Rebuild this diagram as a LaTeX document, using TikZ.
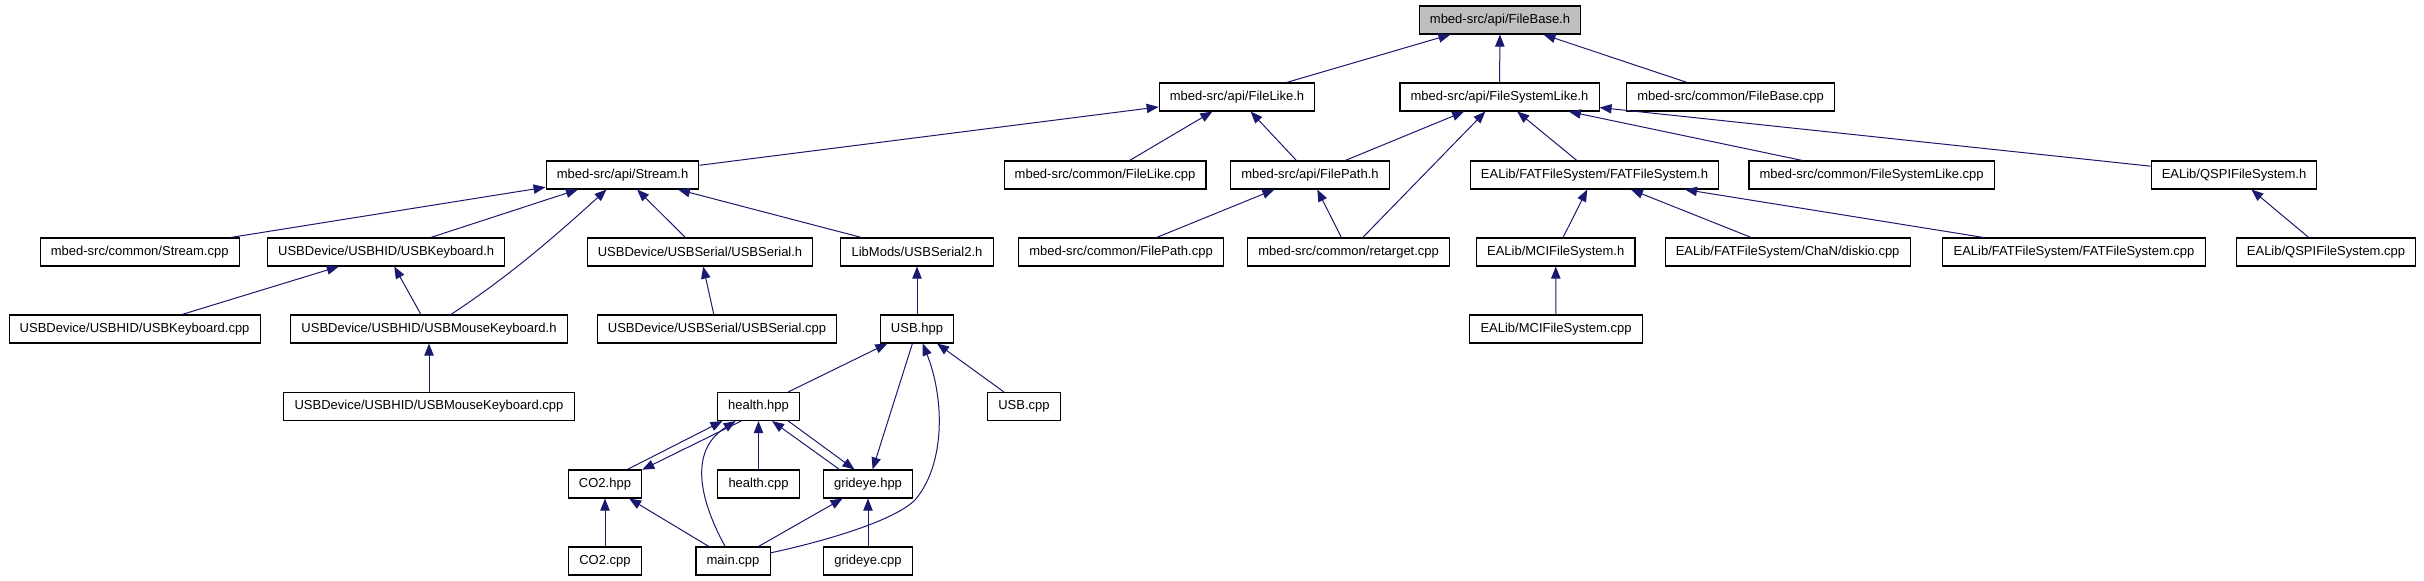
\documentclass[tikz,border=0pt]{standalone}
\usepackage{fontspec}
\setmainfont{Liberation Sans}
\usetikzlibrary{arrows.meta}
\definecolor{edgeblue}{RGB}{25,25,112}

\begin{document}
\begin{tikzpicture}[x=0.75pt,y=0.75pt,yscale=-1,xscale=1,
  file/.style={draw=black,line width=0.8pt,fill=white,inner xsep=8pt,inner ysep=0pt,minimum height=21pt,font=\fontsize{9.75}{11}\selectfont},
  focus/.style={file,fill=black!25},
  dep/.style={draw=edgeblue,line width=0.75pt,-{Triangle[length=9pt,width=7pt]}}]

\useasboundingbox (0,0) rectangle (2424,581);

\node [focus] (fbh) at (1500,20) {mbed-src/api/FileBase.h};

\node [file] (flh) at (1237,97) {mbed-src/api/FileLike.h};
\node [file] (fslh) at (1499.5,97) {mbed-src/api/FileSystemLike.h};
\node [file] (fbcpp) at (1730.6,97) {mbed-src/common/FileBase.cpp};

\node [file] (streamh) at (622.5,175) {mbed-src/api/Stream.h};
\node [file] (flcpp) at (1105,175) {mbed-src/common/FileLike.cpp};
\node [file] (fph) at (1310,175) {mbed-src/api/FilePath.h};
\node [file] (fath) at (1594.5,175) {EALib/FATFileSystem/FATFileSystem.h};
\node [file] (fslcpp) at (1871.6,175) {mbed-src/common/FileSystemLike.cpp};
\node [file] (qspih) at (2234,175) {EALib/QSPIFileSystem.h};

\node [file] (streamcpp) at (139.7,252) {mbed-src/common/Stream.cpp};
\node [file] (kbdh) at (386.2,252) {USBDevice/USBHID/USBKeyboard.h};
\node [file] (serh) at (700,252) {USBDevice/USBSerial/USBSerial.h};
\node [file] (ser2h) at (917,252) {LibMods/USBSerial2.h};
\node [file] (fpcpp) at (1121,252) {mbed-src/common/FilePath.cpp};
\node [file] (retarget) at (1348.6,252) {mbed-src/common/retarget.cpp};
\node [file] (mcih) at (1555.7,252) {EALib/MCIFileSystem.h};
\node [file] (diskio) at (1787.6,252) {EALib/FATFileSystem/ChaN/diskio.cpp};
\node [file] (fatcpp) at (2074,252) {EALib/FATFileSystem/FATFileSystem.cpp};
\node [file] (qspicpp) at (2326,252) {EALib/QSPIFileSystem.cpp};

\node [file] (kbdcpp) at (134.6,329) {USBDevice/USBHID/USBKeyboard.cpp};
\node [file] (mkbdh) at (429,329) {USBDevice/USBHID/USBMouseKeyboard.h};
\node [file] (sercpp) at (717,329) {USBDevice/USBSerial/USBSerial.cpp};
\node [file] (usbhpp) at (917,329) {USB.hpp};
\node [file] (mcicpp) at (1556,329) {EALib/MCIFileSystem.cpp};

\node [file] (mkbdcpp) at (429,406.5) {USBDevice/USBHID/USBMouseKeyboard.cpp};
\node [file] (healthhpp) at (758.5,406.5) {health.hpp};
\node [file] (usbcpp) at (1024,406.5) {USB.cpp};

\node [file] (co2hpp) at (605,484) {CO2.hpp};
\node [file] (healthcpp) at (758.5,484) {health.cpp};
\node [file] (grideyehpp) at (868,484) {grideye.hpp};

\node [file] (co2cpp) at (605,561) {CO2.cpp};
\node [file] (maincpp) at (733,561) {main.cpp};
\node [file] (grideyecpp) at (868,561) {grideye.cpp};

\draw [dep] (flh) -- (fbh);
\draw [dep] (fslh) -- (fbh);
\draw [dep] (fbcpp) -- (fbh);

\draw [dep] (streamh) -- (flh);
\draw [dep] (flcpp) -- (flh);
\draw [dep] (fph) -- (flh);
\draw [dep] (fph) -- (fslh);
\draw [dep] (retarget) -- (fslh);
\draw [dep] (fath) -- (fslh);
\draw [dep] (fslcpp) -- (fslh);
\draw [dep] (qspih) -- (fslh);

\draw [dep] (streamcpp) -- (streamh);
\draw [dep] (kbdh) -- (streamh);
\draw [dep] (mkbdh) .. controls (500,282) and (540,250) .. (streamh);
\draw [dep] (serh) -- (streamh);
\draw [dep] (ser2h) -- (streamh);
\draw [dep] (fpcpp) -- (fph);
\draw [dep] (retarget) -- (fph);
\draw [dep] (mcih) -- (fath);
\draw [dep] (diskio) -- (fath);
\draw [dep] (fatcpp) -- (fath);
\draw [dep] (qspicpp) -- (qspih);

\draw [dep] (kbdcpp) -- (kbdh);
\draw [dep] (mkbdh) -- (kbdh);
\draw [dep] (sercpp) -- (serh);
\draw [dep] (usbhpp) -- (ser2h);
\draw [dep] (mcicpp) -- (mcih);

\draw [dep] (mkbdcpp) -- (mkbdh);
\draw [dep] (healthhpp) -- (usbhpp);
\draw [dep] (usbcpp) -- (usbhpp);
\draw [dep] (usbhpp) -- (grideyehpp);
\draw [dep] (maincpp) .. controls (830,540) and (895,520) .. (915,500) .. controls (945,465) and (945,400) .. (usbhpp);

\draw [dep] (co2hpp.33) -- (healthhpp.202);
\draw [dep] (healthhpp.220) -- (co2hpp.21);
\draw [dep] (healthhpp.-26) -- (grideyehpp.133);
\draw [dep] (grideyehpp.153) -- (healthhpp.-47);
\draw [dep] (healthcpp) -- (healthhpp);
\draw [dep] (maincpp) .. controls (708,515) and (682,455) .. (healthhpp);

\draw [dep] (co2cpp) -- (co2hpp);
\draw [dep] (maincpp) -- (co2hpp);
\draw [dep] (maincpp) -- (grideyehpp);
\draw [dep] (grideyecpp) -- (grideyehpp);

\end{tikzpicture}
\end{document}
